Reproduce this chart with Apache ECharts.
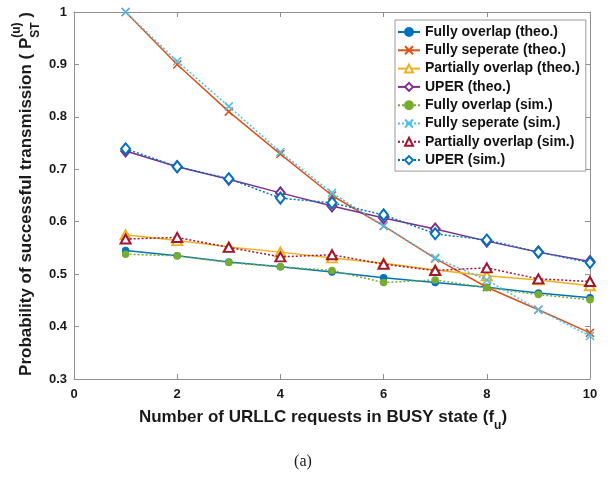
<!DOCTYPE html>
<html><head><meta charset="utf-8">
<script src="https://cdn.jsdelivr.net/npm/echarts@6/dist/echarts.min.js"></script>
<style>html,body{margin:0;padding:0;background:#fff}#c{width:613px;height:477px}</style>
</head><body><div id="c"></div>
<script>
const xValues = [1,2,3,4,5,6,7,8,9,10];
const xTicks = [0,2,4,6,8,10];
const yTicks = [0.3,0.4,0.5,0.6,0.7,0.8,0.9,1];
const seriesNames = ['Fully overlap (theo.)','Fully seperate (theo.)','Partially overlap (theo.)','UPER (theo.)','Fully overlap (sim.)','Fully seperate (sim.)','Partially overlap (sim.)','UPER (sim.)'];
const fullyOverlapTheo = [0.545,0.535,0.523,0.514,0.504,0.493,0.484,0.475,0.464,0.455];
const fullySeperateTheo = [1.0,0.900,0.810,0.729,0.650,0.592,0.530,0.475,0.432,0.388];
const partiallyOverlapTheo = [0.575,0.564,0.552,0.542,0.531,0.521,0.508,0.497,0.489,0.478];
const uperTheo = [0.735,0.705,0.681,0.655,0.630,0.607,0.586,0.563,0.542,0.524];
const fullyOverlapSim = [0.538,0.535,0.522,0.514,0.507,0.484,0.489,0.474,0.461,0.451];
const fullySeperateSim = [1.0,0.906,0.820,0.733,0.655,0.592,0.531,0.489,0.432,0.382];
const partiallyOverlapSim = [0.567,0.570,0.551,0.533,0.537,0.519,0.507,0.512,0.491,0.486];
const uperSim = [0.739,0.705,0.682,0.645,0.636,0.613,0.577,0.565,0.542,0.522];

const allData = [fullyOverlapTheo,fullySeperateTheo,partiallyOverlapTheo,uperTheo,fullyOverlapSim,fullySeperateSim,partiallyOverlapSim,uperSim];
const colors = ['#0072BD','#D95319','#EDB120','#7E2F8E','#77AC30','#4DBEEE','#A2142F','#0072BD'];
const crossPath = 'path://M0,0L10,10M10,0L0,10';
const symbols = ['circle',crossPath,'emptyTriangle','emptyDiamond','circle',crossPath,'emptyTriangle','emptyDiamond'];
const symbolSizes = [6,8,[10,9],[9,11],6,8,[10,9],[9,11]];

const series = seriesNames.map((name,i)=>{
  const c = colors[i];
  const sim = i>=4;
  return {
    name, type:'line',
    data: xValues.map((x,j)=>[x, allData[i][j]]),
    symbol: symbols[i], symbolSize: symbolSizes[i],
    showAllSymbol:true,
    lineStyle:{color:c, width:1.5, type: sim ? [2,2] : 'solid'},
    itemStyle:{color:c, borderColor:c, borderWidth:1.5},
    emphasis:{disabled:true},
    z: 2+i,
    animation:false
  };
});

const font = '"Liberation Sans", Arial, sans-serif';
const tickFont = {fontFamily:font, fontWeight:'bold', fontSize:13, color:'#1a1a1a'};
const axisColor = '#8f8f8f';

function measure(t, f){
  const ctx = document.createElement('canvas').getContext('2d');
  ctx.font = f; return ctx.measureText(t).width;
}
const mainF = 'bold 17px "Liberation Sans", Arial, sans-serif';
const smallF = 'bold 12px "Liberation Sans", Arial, sans-serif';

// Y title
const yA = 'Probability of successful transmission ( P';
const yB = ' )';
const wA = measure(yA, mainF), wSup = measure('(u)', smallF), wSub = measure('ST', smallF), wB = measure(yB, mainF);
const wS = Math.max(wSup, wSub);
const yW = wA + wS + wB;
const y0 = -yW/2;
// X title
const xA = 'Number of URLLC requests in BUSY state (f';
const xB = ')';
const xwA = measure(xA, mainF), xwS = measure('u', smallF), xwB = measure(xB, mainF);
const xW = xwA + xwS + xwB;
const x0 = -xW/2;

const graphic = [
  {type:'group', x:26, y:194, rotation:Math.PI/2, children:[
    {type:'text', x:y0, y:0, style:{text:yA, font:mainF, fill:'#1a1a1a', verticalAlign:'middle', align:'left'}},
    {type:'text', x:y0+wA, y:-9.5, style:{text:'(u)', font:smallF, fill:'#1a1a1a', verticalAlign:'middle', align:'left'}},
    {type:'text', x:y0+wA, y:10, style:{text:'ST', font:smallF, fill:'#1a1a1a', verticalAlign:'middle', align:'left'}},
    {type:'text', x:y0+wA+wS, y:0, style:{text:yB, font:mainF, fill:'#1a1a1a', verticalAlign:'middle', align:'left'}}
  ]},
  {type:'group', x:323, y:417, children:[
    {type:'text', x:x0, y:0, style:{text:xA, font:mainF, fill:'#1a1a1a', verticalAlign:'middle', align:'left'}},
    {type:'text', x:x0+xwA, y:8.5, style:{text:'u', font:smallF, fill:'#1a1a1a', verticalAlign:'middle', align:'left'}},
    {type:'text', x:x0+xwA+xwS, y:0, style:{text:xB, font:mainF, fill:'#1a1a1a', verticalAlign:'middle', align:'left'}}
  ]},
  {type:'text', x:303, y:462, style:{text:'(a)', font:'16px "Liberation Serif", "Times New Roman", serif', fill:'#1a1a1a', align:'center', verticalAlign:'middle'}}
];

const option = {
  backgroundColor:'#fff',
  animation:false,
  color: colors,
  grid:{left:74, right:23, top:12, bottom:98, containLabel:false},
  xAxis:[
    {type:'value', min:0, max:10, interval:2, position:'bottom',
     axisLine:{show:true, onZero:false, lineStyle:{color:axisColor, width:1}},
     axisTick:{show:true, inside:true, length:5, lineStyle:{color:axisColor}},
     axisLabel:Object.assign({margin:9, formatter: v=> xTicks.includes(v)? String(v):''}, tickFont),
     splitLine:{show:false}},
    {type:'value', min:0, max:10, interval:2, position:'top',
     axisLine:{show:true, onZero:false, lineStyle:{color:axisColor, width:1}},
     axisTick:{show:true, inside:true, length:5, lineStyle:{color:axisColor}},
     axisLabel:{show:false}, splitLine:{show:false}}
  ],
  yAxis:[
    {type:'value', min:0.3, max:1, interval:0.1, position:'left',
     axisLine:{show:true, onZero:false, lineStyle:{color:axisColor, width:1}},
     axisTick:{show:true, inside:true, length:5, lineStyle:{color:axisColor}},
     axisLabel:Object.assign({margin:7, formatter: v=>{const r=Math.round(v*10)/10; return yTicks.some(t=>Math.abs(t-r)<1e-9)? (r===1?'1':r.toFixed(1)) : '';}}, tickFont),
     splitLine:{show:false}},
    {type:'value', min:0.3, max:1, interval:0.1, position:'right',
     axisLine:{show:true, onZero:false, lineStyle:{color:axisColor, width:1}},
     axisTick:{show:true, inside:true, length:5, lineStyle:{color:axisColor}},
     axisLabel:{show:false}, splitLine:{show:false}}
  ],
  legend:{
    data: seriesNames, orient:'vertical', left:395, top:20,
    padding:[5,6,4,2], itemGap:4.3, itemWidth:22, itemHeight:10,
    backgroundColor:'#fff', borderColor:'#9a9a9a', borderWidth:1, borderRadius:0,
    textStyle:{fontFamily:font, fontWeight:'bold', fontSize:14, color:'#111', lineHeight:14},
    selectedMode:false
  },
  series,
  graphic
};
const chart = echarts.init(document.getElementById('c'), null, {renderer:'canvas'});
chart.setOption(option);
</script></body></html>
